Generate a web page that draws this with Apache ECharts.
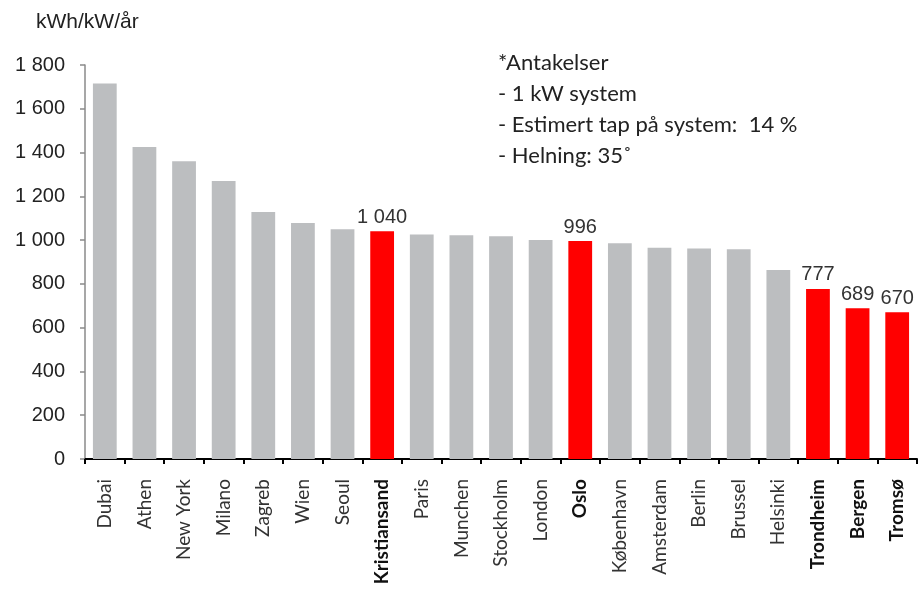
<!DOCTYPE html>
<html>
<head>
<meta charset="utf-8">
<script src="https://cdn.jsdelivr.net/npm/echarts@6/dist/echarts.min.js"></script>
<style>
html,body{margin:0;padding:0;background:#fff;}
#chart{width:920px;height:599px;}
</style>
</head>
<body>
<div id="chart"></div>
<script>
const categories = ['Dubai','Athen','New York','Milano','Zagreb','Wien','Seoul','Kristiansand','Paris','Munchen','Stockholm','London','Oslo','København','Amsterdam','Berlin','Brussel','Helsinki','Trondheim','Bergen','Tromsø'];
const values = [1715,1425,1360,1270,1128,1078,1050,1040,1026,1022,1018,1000,996,986,965,962,958,863,777,689,670];
const highlighted = ['Kristiansand','Oslo','Trondheim','Bergen','Tromsø'];
const yTicks = {min:0, max:1800, interval:200};
const unitLabel = 'kWh/kW/år';
const notes = ['*Antakelser','- 1 kW system','- Estimert tap på system:  14 %','- Helning: 35˚'];

const fmt = v => String(v).replace(/\B(?=(\d{3})+(?!\d))/g, ' ');
const isHi = name => highlighted.indexOf(name) >= 0;

const chart = echarts.init(document.getElementById('chart'), null, {renderer:'canvas'});
chart.setOption({
  animation:false,
  backgroundColor:'#ffffff',
  grid:{left:85, right:3, top:65, bottom:140, containLabel:false},
  xAxis:{
    type:'category',
    data:categories,
    axisLine:{lineStyle:{color:'#000', width:2}},
    axisTick:{show:true, length:5, lineStyle:{color:'#000', width:2}},
    axisLabel:{
      rotate:90, margin:20, interval:0,
      fontFamily:'Lato', fontSize:19, color:'#333',
      formatter: v => isHi(v) ? '{b|'+v+'}' : '{n|'+v+'}',
      rich:{
        n:{fontFamily:'Lato', fontSize:19, color:'#333'},
        b:{fontFamily:'Lato', fontSize:19, fontWeight:'bold', color:'#111'}
      }
    }
  },
  yAxis:{
    type:'value',
    min:yTicks.min, max:yTicks.max, interval:yTicks.interval,
    axisLine:{show:true, lineStyle:{color:'#8a8a8a', width:1.5}},
    axisTick:{show:true, length:5, lineStyle:{color:'#8a8a8a', width:1.5}},
    splitLine:{show:false},
    axisLabel:{margin:20, fontFamily:'Liberation Sans', fontSize:20, color:'#222', formatter: v => fmt(v)}
  },
  graphic:[
    {type:'text', left:36, top:12, style:{text:unitLabel, fontFamily:'Liberation Sans', fontSize:21, fill:'#222'}},
    {type:'text', left:498, top:47, style:{text:notes.join('\n'), fontFamily:'Lato', fontSize:22, lineHeight:31, fill:'#222'}}
  ],
  series:[{
    type:'bar',
    barCategoryGap:'40%',
    data: values.map((v,i) => ({
      value:v,
      itemStyle:{color: isHi(categories[i]) ? '#ff0000' : '#bcbec0'},
      label:{show: isHi(categories[i])}
    })),
    label:{
      position:'top', distance:4,
      fontFamily:'Liberation Sans', fontSize:20, color:'#333',
      formatter: p => fmt(p.value)
    }
  }]
});
</script>
</body>
</html>
